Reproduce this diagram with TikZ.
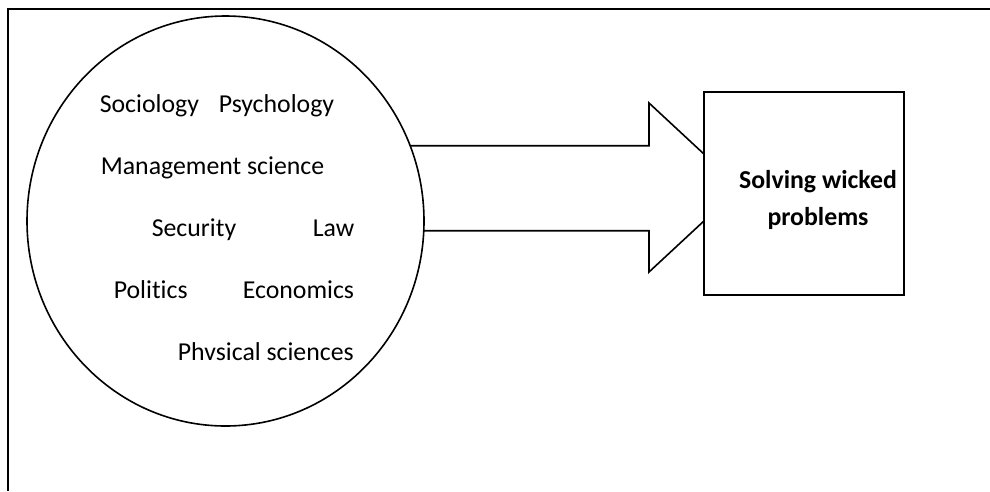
\documentclass[tikz,border=0pt]{standalone}
\usepackage{fontspec}
\setmainfont[Ligatures=NoCommon]{Carlito}
\usetikzlibrary{shapes.geometric}

\begin{document}
\begin{tikzpicture}[x=1pt,y=-1pt,line width=1.6pt]
\tikzstyle{field} = [font=\fontsize{25.8}{30}\selectfont,inner sep=0pt,anchor=base west]
\tikzstyle{goal} = [font=\fontsize{25.8}{30}\selectfont\bfseries,inner sep=0pt,anchor=base]
\useasboundingbox (0,0) rectangle (990,491);

%%%%%% Frame
\draw (8,491) -- (8,9) -- (990,9);

%%%%%% Arrow (tip hidden under the box)
\coordinate (tip) at (740,187.5);
\filldraw[fill=white] (380,145.7) -- (649,145.7) -- (649,103) -- (tip) -- (649,272) -- (649,230.7) -- (380,230.7) -- cycle;

%%%%%% Circle
\node[draw,fill=white,ellipse,minimum width=397pt,minimum height=410pt,inner sep=0pt] (fields) at (225.5,221) {};

%%%%%% Box
\node[draw,fill=white,minimum width=200pt,minimum height=203pt,anchor=north west] (box) at (703,91) {};

%%%%%% Fields
\node[field] (soc) at (99,112) {Sociology};
\node[field] (psy) at (218,112) {Psychology};
\node[field] (man) at (100,174) {Management science};
\node[field] (sec) at (151,236.5) {Security};
\node[field] (law) at (312,236.5) {Law};
\node[field] (pol) at (113,298) {Politics};
\node[field] (eco) at (242,298) {Economics};
\node[field] (phy) at (177,360) {Phvsical sciences};

%%%%%% Goal
\node[goal] (solve) at (818,188) {Solving wicked};
\node[goal] (prob) at (818,225) {problems};
\end{tikzpicture}
\end{document}
